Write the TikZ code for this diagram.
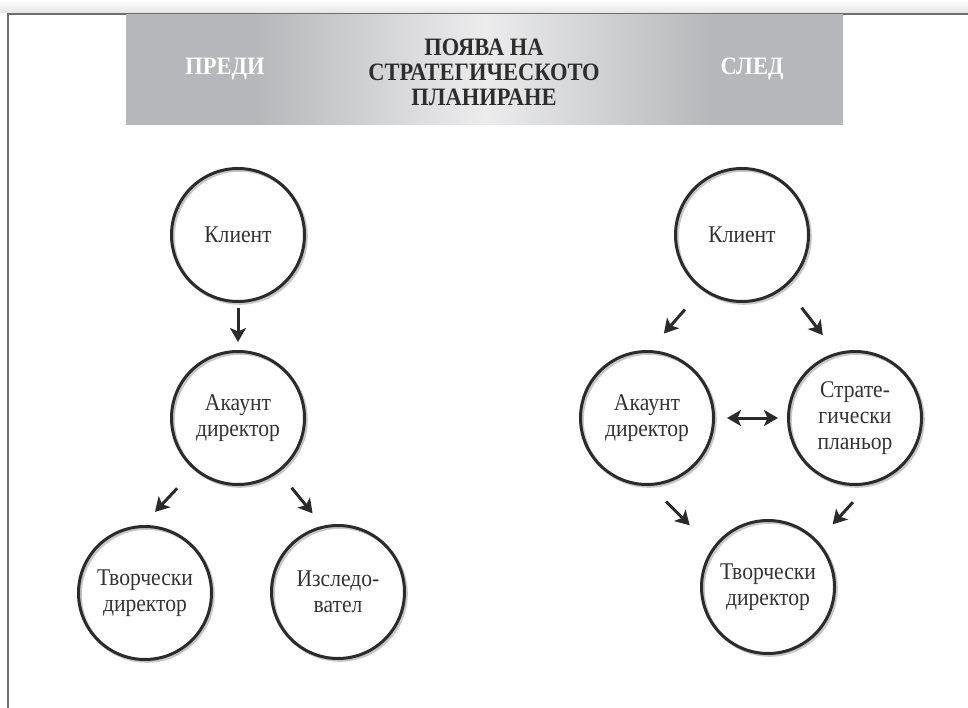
\documentclass[tikz,border=0pt]{standalone}
\usepackage{fontspec}
\setmainfont{Liberation Serif}
\newfontfamily\rolefont[FakeStretch=0.9]{Liberation Serif}
\usepackage{tikz}
\usetikzlibrary{arrows.meta}
\usetikzlibrary{backgrounds}
\usetikzlibrary{positioning}

\definecolor{ringgray}{RGB}{43,43,43}
\definecolor{bannergray}{RGB}{182,183,186}
\definecolor{bannerlight}{RGB}{236,236,237}
\definecolor{framegray}{RGB}{110,110,110}
\definecolor{titlegray}{RGB}{45,45,45}
\pgfdeclarehorizontalshading{bannershade}{100bp}{color(0bp)=(bannergray); color(34bp)=(bannergray); color(50bp)=(bannerlight); color(66bp)=(bannergray); color(100bp)=(bannergray)}

\tikzset{
	role/.style={circle, draw=ringgray, line width=3pt, minimum size=133pt, inner sep=0pt,
	             align=center, text=black!80, font=\rolefont\fontsize{24}{26}\selectfont},
	hdtext/.style={align=center, inner sep=0pt, font=\rolefont\bfseries\fontsize{25}{25}\selectfont}
}

\begin{document}
\begin{tikzpicture}[x=1pt, y=-1pt]
	\useasboundingbox (0,0) rectangle (968,708);
	% frame and banner
	\fill[top color=white, bottom color=black!10] (0,0) rectangle (968,13);
	\draw[framegray, line width=1.5pt] (8,708) -- (8,14) -- (968,14);
	\shade[shading=bannershade] (126,15) rectangle (843,125);

	\node[hdtext, text=white, anchor=base] (pre) at (225,75) {ПРЕДИ};
	\node[hdtext, text=titlegray] (title) at (484,72) {ПОЯВА НА\\СТРАТЕГИЧЕСКОТО\\ПЛАНИРАНЕ};
	\node[hdtext, text=white, anchor=base] (sled) at (752,75) {СЛЕД};

	\begin{scope}[every node/.style={role}]
		% before
		\node (kl1) at (238,235) {Клиент};
		\node (ak1) at (238,418) {Акаунт\\директор};
		\node (tv1) at (145,593) {Творчески\\директор};
		\node (is1) at (338,592) {Изследо-\\вател};
		% after
		\node (kl2) at (742,235) {Клиент};
		\node (ak2) at (647,418) {Акаунт\\директор};
		\node (st2) at (855,418) {Страте-\\гически\\планьор};
		\node (tv2) at (768,587) {Творчески\\директор};
	\end{scope}

	\begin{scope}[on background layer]
		\foreach \n in {kl1,ak1,tv1,is1,kl2,ak2,st2,tv2}
			\draw[black!22, line width=3pt] ([shift={(1.8pt,-1.8pt)}]\n.center) circle (66.5pt);
	\end{scope}

	\begin{scope}[>={Stealth[length=14pt, width=16pt, inset=3.5pt]},
	              every edge/.style={draw=ringgray, line width=3pt, ->}]
		\path (kl1.south) edge[shorten <=5pt, shorten >=8pt] (ak1.north);
		\path (ak1.230) edge[shorten <=25pt, shorten >=18pt] (tv1.92);
		\path (ak1.307) edge[shorten <=20pt, shorten >=16pt] (is1.103);
		\path (kl2.234) edge[shorten <=26pt, shorten >=22pt] (ak2.88);
		\path (kl2.310) edge[shorten <=26pt, shorten >=22pt] (st2.106);
		\path (ak2.east) edge[<->, shorten <=12pt, shorten >=9pt] (st2.west);
		\path (ak2.273) edge[shorten <=22pt, shorten >=32pt] (tv2.145);
		\path (st2.282) edge[shorten <=24pt, shorten >=22pt] (tv2.43);
	\end{scope}
\end{tikzpicture}
\end{document}
